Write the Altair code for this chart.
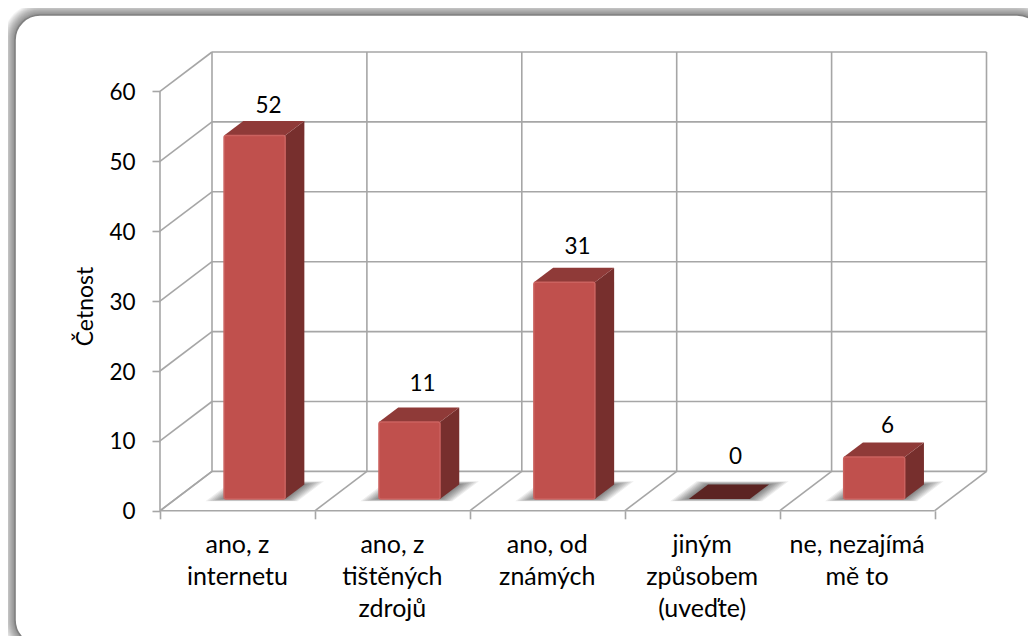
import altair as alt
import pandas as pd

categories = ["ano, z\ninternetu", "ano, z\ntištěných\nzdrojů", "ano, od\nznámých", "jiným\nzpůsobem\n(uveďte)", "ne, nezajímá\nmě to"]
values = [52, 11, 31, 0, 6]
label_heights = [58.2, 18.4, 38.0, 8.0, 12.4]
label_shifts = [0.70, 0.695, 0.695, 0.715, 0.696]
ticks_y = [0, 10, 20, 30, 40, 50, 60]

FONT = "Lato"
GRID = "#A6A6A6"
FRONT = "#C0504D"
EDGE = "#CB625F"
TOP = "#8F3A38"
SIDE = "#772F2D"
ZERO_TOP = "#5C2422"

# plot geometry (px)
UX = 154.9      # px per category
UY = 6.99       # px per value unit
DX = 52 / UX    # depth offset in category units
DY = 39.4 / UY  # depth offset in value units
D0, D1 = 0.30, 0.67   # depth range of the bars
BAR = 0.394
N = len(categories)
W = (N + DX) * UX
H = (60 + DY) * UY
PAD = {"left": 152, "top": 44, "right": 1020 - 152 - W, "bottom": 628 - 44 - H}

xs = alt.Scale(domain=[0, N + DX], range=[0, W], nice=False, zero=False)
ys = alt.Scale(domain=[0, 60 + DY], range=[H, 0], nice=False, zero=False)


def px(v):
    return alt.value(v)


def X(field="x", **kw):
    kw.setdefault("axis", None)
    return alt.X(f"{field}:Q", scale=xs, **kw)


def Y(field="y", **kw):
    kw.setdefault("axis", None)
    return alt.Y(f"{field}:Q", scale=ys, stack=None, **kw)


# frame
L0, T0, R0, B0 = 15 - 8 - 152, 15 - 8 - 44, 1042 - 8 - 152, 645 - 8 - 44
blank = alt.Data(values=[{"a": 1}])
frame = []
for i in range(12, 0, -1):
    frame.append(
        alt.Chart(blank).mark_rect(cornerRadius=25 + i, color="#000000", opacity=0.045)
        .encode(x=px(L0 - i), x2=px(R0 + i), y=px(T0 - i), y2=px(B0 + i))
    )
frame.append(
    alt.Chart(blank).mark_rect(cornerRadius=25, color="#FFFFFF", stroke="#808080", strokeWidth=1.6)
    .encode(x=px(L0), x2=px(R0), y=px(T0), y2=px(B0))
)

# grid on the walls and floor
rows = []
for t in ticks_y:
    rows.append({"x": DX, "x2": N + DX, "y": t + DY, "y2": t + DY})
    rows.append({"x": 0, "x2": DX, "y": t, "y2": t + DY})
for c in range(N + 1):
    rows.append({"x": c + DX, "x2": c + DX, "y": DY, "y2": 60 + DY})
    rows.append({"x": c, "x2": c + DX, "y": 0, "y2": DY})
rows.append({"x": 0, "x2": N, "y": 0, "y2": 0})
rows.append({"x": 0, "x2": 0, "y": 0, "y2": 60})
grid = alt.Chart(pd.DataFrame(rows)).mark_rule(color=GRID, strokeWidth=1.6).encode(
    x=X(axis=alt.Axis(values=list(range(N + 1)), labels=False, domain=False, grid=False, title=None, zindex=1,
                      ticks=True, tickSize=8, tickColor=GRID, tickWidth=1.6)),
    x2="x2:Q",
    y=Y(axis=alt.Axis(values=ticks_y, domain=False, grid=False, title="Četnost", tickSize=8, zindex=1,
                      tickColor=GRID, tickWidth=1.6, labelFont=FONT, labelFontSize=22.5, labelColor="#000000",
                      labelPadding=17, labelOffset=1, titleFont=FONT, titleFontSize=23, titleFontWeight="normal",
                      titleColor="#000000", titleX=-63, titleY=254)),
    y2="y2:Q",
)


def top_rows(key, a, w, level, d0, d1):
    x_fl, x_bl = a + d0 * DX, a + d1 * DX
    x_fr, x_br = x_fl + w, x_bl + w
    v0, v1 = level + d0 * DY, level + d1 * DY
    return [
        {"id": key, "x": x_fl, "y": v0, "y2": v0},
        {"id": key, "x": x_bl, "y": v1, "y2": v0},
        {"id": key, "x": x_fr, "y": v1, "y2": v0},
        {"id": key, "x": x_br, "y": v1, "y2": v1},
    ]


shadow, front, side, top = [], [], [], []
for c, v in enumerate(values):
    a = c + (1 - BAR) / 2 + 0.01
    for s in range(8):
        e = 0.10 - s * 0.0125
        for row in top_rows(f"s{c}-{s}", a - e, BAR + 2 * e, 0, D0 - 0.06 + s * 0.0075, D1 + 0.08 - s * 0.01):
            shadow.append(row)
    if v > 0:
        front.append({"x": a + D0 * DX, "x2": a + BAR + D0 * DX, "y": D0 * DY, "y2": v + D0 * DY})
        xf, xb = a + BAR + D0 * DX, a + BAR + D1 * DX
        side.append({"id": c, "x": xf, "y": v + D0 * DY, "y2": D0 * DY})
        side.append({"id": c, "x": xb, "y": v + D1 * DY, "y2": D1 * DY})
    for row in top_rows(c, a, BAR, v, D0, D1):
        row["fill"] = TOP if v > 0 else ZERO_TOP
        top.append(row)

shadow_layer = alt.Chart(pd.DataFrame(shadow)).mark_area(color="#000000", opacity=0.07, interpolate="linear").encode(
    x=X(), y=Y(), y2="y2:Q", detail="id:N"
)
side_layer = alt.Chart(pd.DataFrame(side)).mark_area(color=SIDE, interpolate="linear").encode(
    x=X(), y=Y(), y2="y2:Q", detail="id:N"
)
top_layer = alt.Chart(pd.DataFrame(top)).mark_area(interpolate="linear").encode(
    x=X(), y=Y(), y2="y2:Q", detail="id:N",
    fill=alt.Fill("fill:N", scale=None),
)
front_layer = alt.Chart(pd.DataFrame(front)).mark_rect(
    color=FRONT, stroke=EDGE, strokeWidth=1.5, cornerRadius=2
).encode(x=X(), x2="x2:Q", y=Y(), y2="y2:Q")

labels = pd.DataFrame({
    "x": [c + s for c, s in enumerate(label_shifts)],
    "y": label_heights,
    "t": [str(v) for v in values],
})
value_text = alt.Chart(labels).mark_text(
    font=FONT, fontSize=22.5, color="#000000", baseline="middle", dy=2
).encode(x=X(), y=Y(), text="t:N")
cats = pd.DataFrame({"x": [c + 0.5 for c in range(N)], "t": categories})
cat_text = alt.Chart(cats).mark_text(
    font=FONT, fontSize=25, color="#000000", baseline="alphabetic", lineBreak="\n", lineHeight=32
).encode(x=X(), y=px(H + 42), text="t:N")

chart = alt.layer(
    *frame, grid, shadow_layer, side_layer, top_layer, front_layer, value_text, cat_text
).resolve_axis(x="independent", y="independent").properties(
    width=W, height=H, padding=PAD, autosize=alt.AutoSizeParams(type="none"), background="#FFFFFF"
).configure_view(stroke=None)

chart.save("out.html", embed_options={"renderer": "svg", "actions": False})
